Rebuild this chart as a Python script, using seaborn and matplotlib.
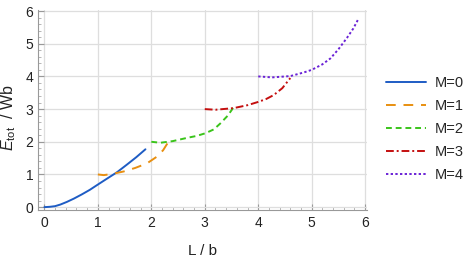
import matplotlib
matplotlib.use('Agg')
import matplotlib.pyplot as plt
import pandas as pd
import seaborn as sns
from matplotlib.ticker import MultipleLocator

# Curves (L/b, E_tot/Wb) for each M
m0_x = [0.0, 0.1, 0.2, 0.3, 0.42, 0.55, 0.7, 0.85, 0.98, 1.15, 1.36, 1.55, 1.72, 1.89]
m0_y = [0.0, 0.01, 0.03, 0.08, 0.16, 0.26, 0.39, 0.53, 0.67, 0.85, 1.07, 1.31, 1.53, 1.77]
m1_x = [1.0, 1.11, 1.25, 1.48, 1.7, 1.92, 2.1, 2.22, 2.32]
m1_y = [1.0, 0.98, 1.01, 1.09, 1.2, 1.34, 1.54, 1.74, 2.0]
m2_x = [2.0, 2.17, 2.4, 2.67, 2.85, 3.01, 3.17, 3.29, 3.43, 3.57]
m2_y = [2.0, 1.97, 2.02, 2.12, 2.18, 2.26, 2.38, 2.56, 2.8, 3.13]
m3_x = [3.0, 3.2, 3.54, 3.8, 4.0, 4.15, 4.29, 4.45, 4.6]
m3_y = [3.0, 2.98, 3.03, 3.12, 3.22, 3.31, 3.43, 3.64, 3.95]
m4_x = [4.0, 4.26, 4.6, 4.85, 5.0, 5.2, 5.35, 5.5, 5.66, 5.78, 5.88]
m4_y = [4.0, 3.97, 4.01, 4.12, 4.2, 4.37, 4.55, 4.83, 5.18, 5.47, 5.78]

labels = ['M=0', 'M=1', 'M=2', 'M=3', 'M=4']
colors = ['#1e5cc4', '#e88f10', '#3ac41a', '#c40f0f', '#6a22d6']
styles = ['-', (0, (5, 4)), (0, (3, 2)), (0, (4, 1.5, 1, 1.5)), (0, (1.2, 1.2))]

frames = []
for lab, xs, ys in zip(labels, [m0_x, m1_x, m2_x, m3_x, m4_x], [m0_y, m1_y, m2_y, m3_y, m4_y]):
    frames.append(pd.DataFrame({'L': xs, 'E': ys, 'M': lab}))
df = pd.concat(frames, ignore_index=True)

sns.set_style('white')
plt.rcParams['font.family'] = ['Liberation Sans', 'DejaVu Sans']
plt.rcParams['mathtext.fontset'] = 'custom'
plt.rcParams['mathtext.rm'] = 'Liberation Sans'
plt.rcParams['mathtext.it'] = 'Liberation Sans:italic'

fig = plt.figure(figsize=(4.69, 2.6), dpi=100)
ax = fig.add_axes([0.081, 0.192, 0.701, 0.768])

for lab, col, ls in zip(labels, colors, styles):
    sub = df[df['M'] == lab]
    sns.lineplot(data=sub, x='L', y='E', color=col, linestyle=ls, linewidth=1.4,
                 sort=False, ax=ax, label=lab)

ax.set_xlim(-0.12, 6.03)
ax.set_ylim(-0.09, 6.02)
ax.xaxis.set_major_locator(MultipleLocator(1))
ax.yaxis.set_major_locator(MultipleLocator(1))
ax.xaxis.set_minor_locator(MultipleLocator(0.2))
ax.yaxis.set_minor_locator(MultipleLocator(0.2))
ax.tick_params(which='major', direction='in', length=4, width=0.8, color='#999999',
               labelsize=10, labelcolor='#222222')
ax.tick_params(axis='x', which='major', pad=4)
ax.tick_params(axis='y', which='major', pad=3.5)
ax.tick_params(which='minor', direction='in', length=2, width=0.6, color='#aaaaaa')
ax.tick_params(axis='x', which='both', bottom=True)
ax.tick_params(axis='y', which='both', left=True)

ax.grid(True, which='major', color='#dedede', linewidth=0.9)
for side in ['top', 'right']:
    ax.spines[side].set_visible(False)
for side in ['left', 'bottom']:
    ax.spines[side].set_color('#999999')
    ax.spines[side].set_linewidth(0.8)

ax.set_xlabel('L / b', fontsize=11, color='#222222')
ax.set_ylabel(r'$E_{\rm tot}$  / Wb', fontsize=11.5, color='#222222')
ax.xaxis.set_label_coords(0.5, -0.17)
ax.yaxis.set_label_coords(-0.06, 0.465)

ax.legend(loc='center left', bbox_to_anchor=(1.02, 0.405), frameon=False,
          fontsize=10.5, handlelength=2.7, labelspacing=0.62, handletextpad=0.6)

fig.savefig('out.png', dpi=100)
